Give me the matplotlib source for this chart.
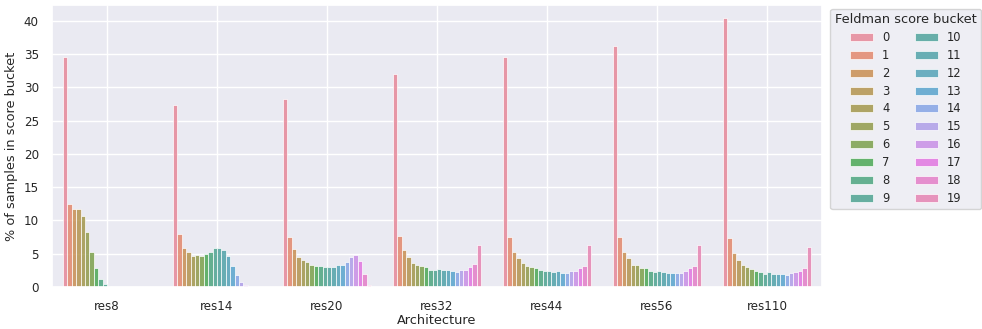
import matplotlib
matplotlib.use("Agg")
import matplotlib.pyplot as plt
import numpy as np
import seaborn as sns

sns.set_theme(style="darkgrid")

# Architectures (x categories)
archs = ['res8', 'res14', 'res20', 'res32', 'res44', 'res56', 'res110']

# Feldman score buckets (hue)
buckets = list(range(20))

# % of samples per bucket, one list per architecture
res8 = [34.5, 12.4, 11.7, 11.7, 10.6, 8.2, 5.3, 2.8, 1.2, 0.5,
        0.1, 0.05, 0.0, 0.0, 0.0, 0.0, 0.0, 0.0, 0.0, 0.0]
res14 = [27.4, 7.9, 5.9, 5.3, 4.6, 4.8, 4.7, 4.9, 5.2, 5.8,
         5.9, 5.6, 4.6, 3.1, 1.8, 0.8, 0.35, 0.05, 0.0, 0.0]
res20 = [28.2, 7.5, 5.65, 4.55, 4.05, 3.7, 3.35, 3.1, 3.1, 3.0,
         2.95, 3.0, 3.25, 3.25, 3.75, 4.55, 4.8, 3.95, 1.95, 0.3]
res32 = [32.0, 7.6, 5.5, 4.5, 3.6, 3.3, 3.1, 3.05, 2.55, 2.55,
         2.65, 2.55, 2.55, 2.35, 2.25, 2.6, 2.6, 3.0, 3.4, 6.35]
res44 = [34.6, 7.5, 5.3, 4.3, 3.6, 3.2, 2.95, 2.9, 2.55, 2.35,
         2.45, 2.25, 2.35, 2.15, 2.05, 2.35, 2.4, 2.9, 3.2, 6.35]
res56 = [36.2, 7.5, 5.2, 4.3, 3.3, 3.3, 2.9, 2.8, 2.45, 2.25,
         2.45, 2.25, 2.15, 2.15, 2.15, 2.15, 2.45, 2.8, 3.1, 6.35]
res110 = [40.4, 7.4, 5.1, 4.0, 3.3, 3.0, 2.65, 2.45, 2.2, 2.0,
          2.3, 2.0, 2.0, 2.0, 1.85, 2.05, 2.3, 2.45, 2.9, 6.05]

values = np.array([res8, res14, res20, res32, res44, res56, res110])

colors = [sns.desaturate(c, 0.75) for c in sns.color_palette("husl", len(buckets))]

fig = plt.figure(figsize=(9.82, 3.29), dpi=100)
ax = fig.add_axes([0.053, 0.128, 0.784, 0.857])

x = np.arange(len(archs))
w = 0.8 / len(buckets)
for j, b in enumerate(buckets):
    pos = x - 0.4 + w * (j + 0.5)
    ax.bar(pos, values[:, j], width=w, color=colors[j], alpha=0.8,
           edgecolor='white', linewidth=0.6, label=str(b))

ax.set_xticks(x)
ax.set_xticklabels(archs, fontsize=8.6)
ax.tick_params(axis='y', labelsize=8.6)
ax.set_xlim(-0.5, len(archs) - 0.5)
ax.set_ylim(0, 42.4)
ax.set_yticks([0, 5, 10, 15, 20, 25, 30, 35, 40])
ax.set_xlabel('Architecture', fontsize=9.3, labelpad=1)
ax.set_ylabel('% of samples in score bucket', fontsize=9.3)

ax.legend(title='Feldman score bucket', ncol=2, loc='upper left',
          bbox_to_anchor=(1.008, 0.995), fontsize=8.3, title_fontsize=9.3,
          columnspacing=2.2, handlelength=2.0, labelspacing=0.42,
          borderaxespad=0.2)

fig.savefig('out.png', dpi=100)
